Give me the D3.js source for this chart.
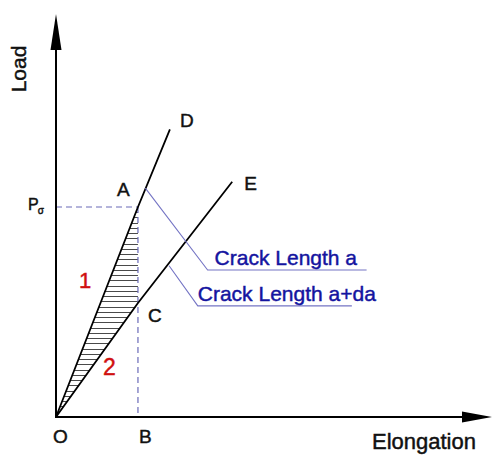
<!DOCTYPE html>
<html>
<head>
<meta charset="utf-8">
<script src="https://cdn.jsdelivr.net/npm/d3@7"></script>
<style>
  html, body { margin: 0; padding: 0; background: #fff; }
  svg { display: block; }
  text { font-family: "Liberation Sans", Arial, sans-serif; stroke-width: 0.45px; }
</style>
</head>
<body>
<script>
// Load–elongation curves for two crack lengths (elongation in units of OB, load in units of Pσ)
const curveA  = [[0, 0], [1, 1], [1.39, 1.37]];      // crack length a   : O → A → D
const curveDA = [[0, 0], [1, 0.543], [2.15, 1.12]];  // crack length a+da: O → C → E
const pointLabels = [
  { name: "D", at: [1.39, 1.37] },
  { name: "A", at: [1, 1] },
  { name: "E", at: [2.15, 1.12] },
  { name: "C", at: [1, 0.543] },
  { name: "O", at: [0, 0] },
  { name: "B", at: [1, 0] }
];
const leaderLabels = [
  { text: "Crack Length a",    path: [[1.09, 1.09], [1.85, 0.70], [3.79, 0.70]] },
  { text: "Crack Length a+da", path: [[1.38, 0.72], [1.73, 0.529], [3.61, 0.529]] }
];
const axisTitles = { x: "Elongation", y: "Load" };
const xMax = 5.32, yMax = 1.919;
const hatchStep = 0.025;

const W = 493, H = 455;
const svg = d3.select("body").append("svg").attr("width", W).attr("height", H);

const x = d3.scaleLinear().domain([0, xMax]).range([56, 492]);
const y = d3.scaleLinear().domain([0, yMax]).range([417, 14]);

// inverse lookup of elongation on a polyline at a given load
function elongAt(curve, load) {
  for (let i = 1; i < curve.length; i++) {
    const [x0, y0] = curve[i - 1], [x1, y1] = curve[i];
    if (load <= y1) return x0 + (x1 - x0) * (load - y0) / (y1 - y0);
  }
  return curve[curve.length - 1][0];
}

// hatched area between the two curves, left of B
const hatch = svg.append("g").attr("stroke", "#4a4a4a").attr("stroke-width", 1);
const levels = d3.range(1 - hatchStep, 0.004, -hatchStep);
levels.forEach(l => {
  const xl = elongAt(curveA, l);
  const xr = Math.min(1, elongAt(curveDA, l));
  if (xr > xl) {
    hatch.append("line")
      .attr("x1", x(xl)).attr("x2", x(xr))
      .attr("y1", Math.round(y(l)) + 0.5).attr("y2", Math.round(y(l)) + 0.5);
  }
});

// dashed guides at Pσ and B
const guide = svg.append("g").attr("stroke", "#6a6ab8").attr("stroke-width", 1.2)
  .attr("stroke-dasharray", "6,4").attr("fill", "none");
guide.append("line").attr("x1", x(0)).attr("x2", x(1)).attr("y1", y(1)).attr("y2", y(1));
guide.append("line").attr("x1", x(1)).attr("x2", x(1)).attr("y1", y(1)).attr("y2", y(0));

// curves
const line = d3.line().x(d => x(d[0])).y(d => y(d[1]));
[curveA, curveDA].forEach(c => {
  svg.append("path").attr("d", line(c)).attr("fill", "none")
    .attr("stroke", "#000").attr("stroke-width", 1.8).attr("stroke-linejoin", "round");
});

// axes with arrowheads
const ax = svg.append("g");
ax.append("line").attr("x1", x(0)).attr("x2", 466).attr("y1", y(0)).attr("y2", y(0))
  .attr("stroke", "#000").attr("stroke-width", 2);
ax.append("line").attr("x1", x(0)).attr("x2", x(0)).attr("y1", y(0) + 1).attr("y2", 48)
  .attr("stroke", "#000").attr("stroke-width", 2);
ax.append("path").attr("fill", "#000")
  .attr("d", `M${x(xMax)},${y(0)} L${x(xMax) - 30},${y(0) - 5.5} L${x(xMax) - 30},${y(0) + 5.5} Z`);
ax.append("path").attr("fill", "#000")
  .attr("d", `M${x(0)},${y(yMax)} L${x(0) - 5.5},${y(yMax) + 36} L${x(0) + 5.5},${y(yMax) + 36} Z`);

svg.append("text").attr("x", 372).attr("y", 449).attr("font-size", 22)
  .attr("fill", "#111").attr("stroke", "#111").text(axisTitles.x);
svg.append("text").attr("transform", "translate(26,69) rotate(-90)")
  .attr("text-anchor", "middle").attr("font-size", 21)
  .attr("fill", "#111").attr("stroke", "#111").text(axisTitles.y);

// Pσ tick label
const pl = svg.append("text").attr("x", 28).attr("y", y(1) + 3).attr("font-size", 16)
  .attr("fill", "#111").attr("stroke", "#111");
pl.append("tspan").text("P");
pl.append("tspan").attr("font-size", 10).attr("dy", 4).attr("dx", -1).text("σ");

// point letters
const offsets = { D: [10, -2], A: [-21, -11], E: [12, 8], C: [10, 19], O: [-3, 26], B: [1, 26] };
pointLabels.forEach(p => {
  const o = offsets[p.name];
  svg.append("text").attr("x", x(p.at[0]) + o[0]).attr("y", y(p.at[1]) + o[1])
    .attr("font-size", 19).attr("fill", "#111").attr("stroke", "#111").text(p.name);
});

// region numbers
svg.append("text").attr("x", 79).attr("y", 288).attr("font-size", 22)
  .attr("fill", "#d01010").attr("stroke", "#d01010").text("1");
svg.append("text").attr("x", 103).attr("y", 375).attr("font-size", 23)
  .attr("fill", "#d01010").attr("stroke", "#d01010").text("2");

// leader callouts
leaderLabels.forEach((l, i) => {
  svg.append("path").attr("d", line(l.path)).attr("fill", "none")
    .attr("stroke", "#7474c4").attr("stroke-width", 1.1);
  const corner = l.path[1];
  svg.append("text").attr("x", x(corner[0]) + (i === 0 ? 7 : 0)).attr("y", y(corner[1]) - 5)
    .attr("font-size", 21).attr("fill", "#1414a0").attr("stroke", "#1414a0").text(l.text);
});
</script>
</body>
</html>
